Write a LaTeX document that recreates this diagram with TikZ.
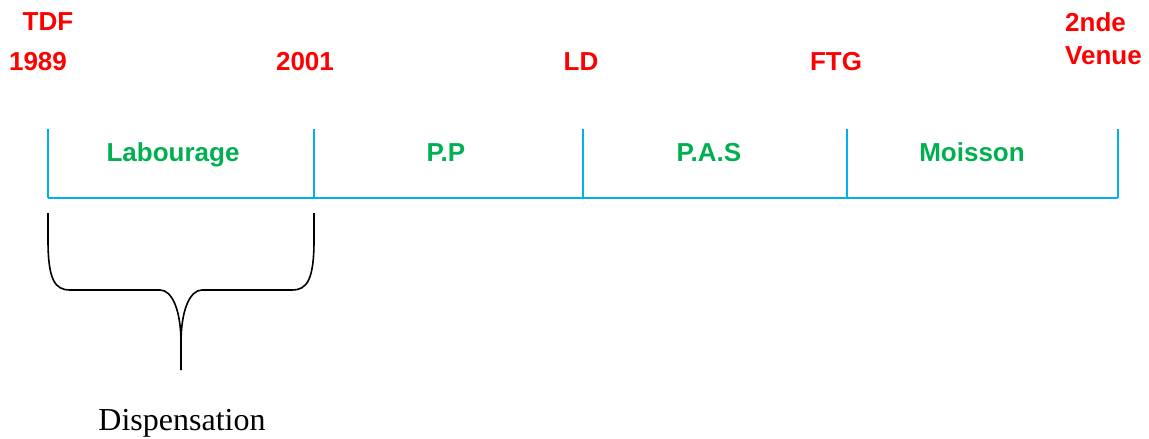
\documentclass[tikz,border=0pt]{standalone}
\usepackage{fontspec}
\setmainfont{Liberation Serif}
\newfontfamily\labelfont{Liberation Sans}
\usetikzlibrary{positioning}

\definecolor{datered}{RGB}{255,0,0}
\definecolor{phasegreen}{RGB}{0,176,80}
\definecolor{axisblue}{RGB}{0,176,240}

\begin{document}
\begin{tikzpicture}[x=1pt, y=-1pt,
  datelabel/.style={text=datered, font=\labelfont\bfseries\fontsize{26}{33}\selectfont, inner sep=0pt},
  phaselabel/.style={text=phasegreen, font=\labelfont\bfseries\fontsize{26}{30}\selectfont, inner sep=0pt, anchor=base},
  axisline/.style={draw=axisblue, line width=2pt},
  bracestroke/.style={draw=black, line width=1.6pt}]
  \useasboundingbox (0,0) rectangle (1149,439);
  % ticks of the time line
  \coordinate (t0) at (48,198);
  \coordinate (t1) at (314,198);
  \coordinate (t2) at (583,198);
  \coordinate (t3) at (847,198);
  \coordinate (t4) at (1118,198);
  \draw[axisline] (t0) -- (t4);
  \foreach \t in {t0,t1,t2,t3,t4}
    \draw[axisline] (\t) -- ++(0,-69);
  % dates above
  \node[datelabel] (tdf) at (48,22) {TDF};
  \node[datelabel] (y1989) at (38,62) {1989};
  \node[datelabel] (y2001) at (305,62) {2001};
  \node[datelabel] (ld) at (581,62) {LD};
  \node[datelabel] (ftg) at (836,62) {FTG};
  \node[datelabel, align=left, anchor=north west] (venue) at (1065,12) {2nde\\Venue};
  % phases
  \node[phaselabel] (labourage) at (173,161) {Labourage};
  \node[phaselabel] (pp) at (446,161) {P.P};
  \node[phaselabel] (pas) at (709,161) {P.A.S};
  \node[phaselabel] (moisson) at (972,161) {Moisson};
  % brace under the first phase
  \coordinate (bl) at (48,213);
  \coordinate (br) at (314,213);
  \coordinate (tip) at (181,370);
  \draw[bracestroke] (bl) -- (48,240) .. controls (48,280) and (55,290) .. (70,290)
    -- (160,290) .. controls (172,290) and (181,310) .. (181,343) -- (tip);
  \draw[bracestroke] (br) -- (314,240) .. controls (314,280) and (307,290) .. (292,290)
    -- (202,290) .. controls (190,290) and (181,310) .. (181,343);
  \node[font=\fontsize{32}{36}\selectfont, inner sep=0pt, anchor=base] (disp) at (182,430) {Dispensation};
\end{tikzpicture}
\end{document}
